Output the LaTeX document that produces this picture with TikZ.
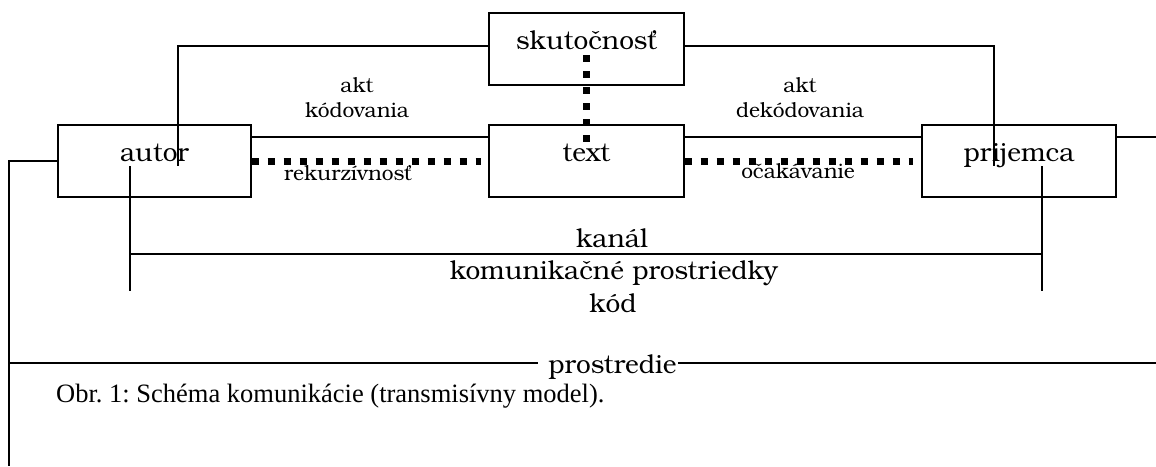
\documentclass[tikz,border=0pt]{standalone}
\usepackage{fontspec}
\setmainfont{texgyrebonum-regular.otf}
\newfontfamily\capfont{Liberation Serif}
\newcommand\bigf{\fontsize{26.2}{31}\selectfont}
\newcommand\smallf{\fontsize{20.9}{25}\selectfont}
\frenchspacing
\tikzset{
  box/.style={draw, line width=1.2pt, minimum width=194pt, minimum height=72pt,
    inner sep=0pt, text height=0pt, text depth=0pt, font=\bigf},
  ln/.style={line width=1.2pt},
  dots/.style={line width=7pt, dash pattern=on 7pt off 9pt},
  lbl/.style={font=\smallf, align=center, inner sep=0pt},
  big/.style={font=\bigf, inner sep=0pt},
  captext/.style={font=\capfont\fontsize{26.5}{31}\selectfont\frenchspacing, inner sep=0pt}
}
\begin{document}
\begin{tikzpicture}[x=1pt,y=-1pt]
\useasboundingbox[fill=white] (0,0) rectangle (1156,466);
% boxes
\node[box, minimum width=193pt] (autor) at (154.5,161) {autor};
\node[box, minimum width=195pt] (skut) at (586.5,49) {skutočnosť};
\node[box, minimum width=195pt] (text) at (586.5,161) {text};
\node[box] (prij) at (1019,161) {prijemca};
% labels
\node[lbl, anchor=base] (kodl) at (357,117) {akt\\kódovania};
\node[lbl, anchor=base] (dekl) at (800,117) {akt\\dekódovania};
\node[lbl, anchor=base] (rek) at (348,180) {rekurzívnosť};
\node[lbl, anchor=base] (oca) at (798,178) {očakávanie};
\node[big, anchor=base] (kanal) at (612,247) {kanál};
\node[big, anchor=base] (kom) at (614,279) {komunikačné prostriedky};
\node[big, anchor=base] (kod) at (613,312) {kód};
\node[big, anchor=base] (prost) at (612.5,373) {prostredie};
\node[captext, anchor=base west] (caption) at (56,402) {Obr. 1: Schéma komunikácie (transmisívny model).};
% coordinates
\coordinate (a1) at (178,166);
\coordinate (p1) at (994,166);
\coordinate (r1) at (1156,137);
\coordinate (l1) at (9,161);
\coordinate (l2) at (9,466);
\coordinate (k1) at (130,166);
\coordinate (k2) at (130,291);
\coordinate (k3) at (1042,166);
\coordinate (k4) at (1042,291);
\coordinate (k5) at (130,254);
\coordinate (k6) at (1042,254);
\coordinate (e1) at (9,363);
\coordinate (e2) at (1156,363);
% connectors
\draw[ln] ([yshift=3pt]skut.west) -| (a1);
\draw[ln] ([yshift=3pt]skut.east) -| (p1);
\draw[ln] ([yshift=24pt]autor.east) -- ([yshift=24pt]text.west);
\draw[ln] ([yshift=24pt]text.east) -- ([yshift=24pt]prij.west);
\draw[ln] ([yshift=24pt]prij.east) -- (r1);
\draw[ln] (autor.west) -- (l1) -- (l2);
\draw[ln] (k1) -- (k2);
\draw[ln] (k3) -- (k4);
\draw[ln] (k5) -- (k6);
\draw[ln] (e1) -- ([xshift=-10pt]prost.west |- e1);
\draw[ln] ([xshift=1pt]prost.east |- e2) -- (e2);
% dotted relations
\draw[dots] (autor.east) -- ([xshift=-7pt]text.west);
\draw[dots] (text.east) -- ([xshift=-8pt]prij.west);
\draw[dots] ([yshift=-6pt]skut.center) -- ([yshift=19pt]text.center);
\end{tikzpicture}
\end{document}
